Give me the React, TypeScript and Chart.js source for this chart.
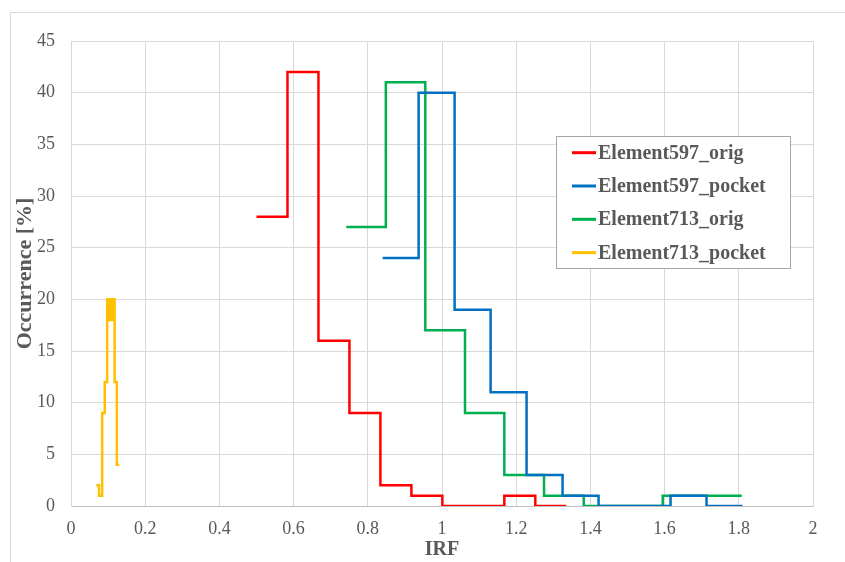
import React, { useEffect, useRef } from 'react';
import { Chart, registerables } from 'chart.js';

Chart.register(...registerables);

// ---- data ----
const seriesNames = ['Element597_orig', 'Element597_pocket', 'Element713_orig', 'Element713_pocket'];
const seriesColors = ['#FF0000', '#0070C0', '#00B050', '#FFC000'];

// bin edges (n+1) and occurrence values (n) per series
const e597OrigEdges = [0.5, 0.5835, 0.667, 0.7505, 0.834, 0.9175, 1.001, 1.0845, 1.168, 1.2515, 1.335];
const e597OrigValues = [28, 42, 16, 9, 2, 1, 0, 0, 1, 0];

const e597PocketEdges = [0.84, 0.937, 1.034, 1.131, 1.228, 1.325, 1.422, 1.519, 1.616, 1.713, 1.81];
const e597PocketValues = [24, 40, 19, 11, 3, 1, 0, 0, 1, 0];

const e713OrigEdges = [0.742, 0.8486, 0.955, 1.062, 1.168, 1.275, 1.382, 1.488, 1.595, 1.702, 1.808];
const e713OrigValues = [27, 41, 17, 9, 3, 1, 0, 0, 1, 1];

const e713PocketEdges = [0.068, 0.0755, 0.084, 0.091, 0.0975, 0.1, 0.1025, 0.105, 0.1075, 0.11, 0.1125, 0.1175, 0.1235, 0.13];
const e713PocketValues = [2, 1, 9, 12, 20, 18, 20, 18, 20, 18, 20, 12, 4];

const xTickLabels = ['0', '0.2', '0.4', '0.6', '0.8', '1', '1.2', '1.4', '1.6', '1.8', '2'];
const yTickLabels = ['0', '5', '10', '15', '20', '25', '30', '35', '40', '45'];

const xTitle = 'IRF';
const yTitle = 'Occurrence [%]';

const SERIF = "'Liberation Serif', 'DejaVu Serif', serif";
const TEXT = '#595959';
const GRID = '#d9d9d9';

function buildPoints(edges: number[], values: number[]) {
  const pts = values.map((v, i) => ({ x: edges[i], y: v }));
  pts.push({ x: edges[edges.length - 1], y: values[values.length - 1] });
  return pts;
}

const framePlugin = {
  id: 'outerFrame',
  beforeDraw(chart: any) {
    const ctx = chart.ctx;
    ctx.save();
    ctx.fillStyle = '#ffffff';
    ctx.fillRect(0, 0, chart.width, chart.height);
    ctx.strokeStyle = GRID;
    ctx.lineWidth = 1;
    ctx.strokeRect(10.5, 12.5, chart.width + 20, chart.height + 20);
    ctx.restore();
  },
};

const boxLegendPlugin = {
  id: 'boxLegend',
  afterDraw(chart: any) {
    const ctx = chart.ctx;
    const left = 556, top = 136, w = 234, h = 132;
    ctx.save();
    ctx.fillStyle = '#ffffff';
    ctx.fillRect(left, top, w, h);
    ctx.strokeStyle = '#a6a6a6';
    ctx.lineWidth = 1;
    ctx.strokeRect(left + 0.5, top + 0.5, w, h);
    chart.data.datasets.forEach((ds: any, i: number) => {
      const y = 152.7 + i * 33.3;
      ctx.strokeStyle = ds.borderColor;
      ctx.lineWidth = 3;
      ctx.beginPath();
      ctx.moveTo(572, y);
      ctx.lineTo(596, y);
      ctx.stroke();
      ctx.fillStyle = TEXT;
      ctx.font = `bold 20px ${SERIF}`;
      ctx.textBaseline = 'middle';
      ctx.textAlign = 'left';
      ctx.fillText(ds.label, 598, y + 1);
    });
    ctx.restore();
  },
};

export default function App() {
  const ref = useRef<HTMLCanvasElement>(null);

  useEffect(() => {
    document.body.style.margin = '0';
    if (!ref.current) return;
    const series = [
      buildPoints(e597OrigEdges, e597OrigValues),
      buildPoints(e597PocketEdges, e597PocketValues),
      buildPoints(e713OrigEdges, e713OrigValues),
      buildPoints(e713PocketEdges, e713PocketValues),
    ];
    const chart = new Chart(ref.current, {
      type: 'line',
      data: {
        datasets: series.map((pts, i) => ({
          label: seriesNames[i],
          data: pts,
          borderColor: seriesColors[i],
          backgroundColor: seriesColors[i],
          borderWidth: 2.5,
          pointRadius: 0,
          stepped: 'before' as const,
          fill: false,
          borderJoinStyle: 'miter' as const,
          borderCapStyle: 'butt' as const,
        })),
      },
      options: {
        responsive: false,
        animation: false,
        devicePixelRatio: 1,
        layout: { padding: { top: 41, right: 32, left: 0, bottom: 0 } },
        plugins: {
          legend: { display: false },
          tooltip: { enabled: false },
        },
        scales: {
          x: {
            type: 'linear',
            min: 0,
            max: 2,
            afterFit: (s: any) => { s.height = 56; },
            ticks: {
              stepSize: 0.2,
              autoSkip: false,
              maxRotation: 0,
              padding: 12,
              color: TEXT,
              font: { family: SERIF, size: 18 },
              callback: (_v: any, i: number) => xTickLabels[i],
            },
            grid: { color: GRID, drawTicks: false, lineWidth: 1 },
            border: { color: '#bfbfbf', width: 1 },
            title: {
              display: true,
              text: xTitle,
              color: TEXT,
              font: { family: SERIF, size: 20, weight: 'bold', lineHeight: 1 },
              padding: { top: 0, bottom: 2 },
            },
          },
          y: {
            type: 'linear',
            min: 0,
            max: 45,
            afterFit: (s: any) => { s.width = 71; },
            ticks: {
              stepSize: 5,
              autoSkip: false,
              padding: 16,
              color: TEXT,
              font: { family: SERIF, size: 18 },
              callback: (_v: any, i: number) => yTickLabels[i],
            },
            grid: { color: GRID, drawTicks: false, lineWidth: 1 },
            border: { color: GRID, width: 1 },
            title: {
              display: true,
              text: yTitle,
              color: TEXT,
              font: { family: SERIF, size: 22, weight: 'bold', lineHeight: 1 },
              padding: { top: 14, bottom: 0 },
            },
          },
        },
      },
      plugins: [framePlugin, boxLegendPlugin],
    });
    return () => chart.destroy();
  }, []);

  return <canvas ref={ref} width={845} height={562} style={{ display: 'block' }} />;
}
